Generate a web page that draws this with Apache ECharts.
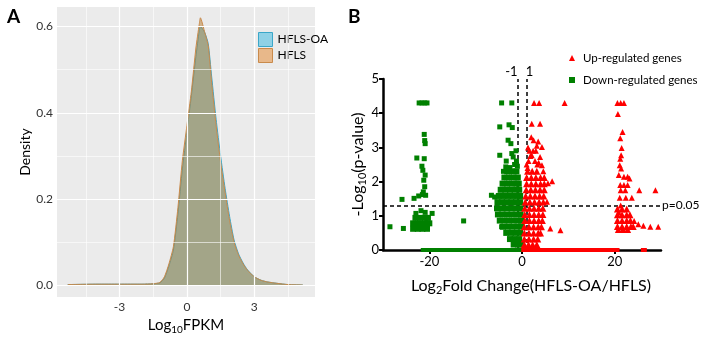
<!DOCTYPE html>
<html><head><meta charset="utf-8">
<script src="https://cdn.jsdelivr.net/npm/echarts@6/dist/echarts.min.js"></script>
<style>html,body{margin:0;padding:0;background:#fff}#c{width:703px;height:340px}</style>
</head><body><div id="c"></div>
<script>
// ---- Panel A: density of log10 FPKM ----
const densX   = [-5.3,-4,-3,-2,-1.5,-1.2,-1.0,-0.8,-0.6,-0.4,-0.2,0,0.2,0.4,0.55,0.6,0.8,0.95,1.1,1.3,1.5,1.7,1.9,2.1,2.3,2.5,2.7,3.0,3.3,3.6,4.0,4.5,5.16];
const hflsY   = [0.002,0.003,0.003,0.003,0.004,0.007,0.02,0.05,0.09,0.18,0.29,0.37,0.45,0.55,0.605,0.62,0.585,0.555,0.47,0.37,0.285,0.215,0.15,0.10,0.07,0.05,0.035,0.02,0.012,0.008,0.005,0.002,0.001];
const hflsOaY = [0.002,0.003,0.003,0.003,0.004,0.006,0.017,0.045,0.082,0.165,0.27,0.355,0.44,0.53,0.59,0.60,0.585,0.56,0.485,0.385,0.30,0.225,0.16,0.105,0.073,0.052,0.036,0.02,0.012,0.008,0.005,0.002,0.001];
const aXTicks = [-3,0,3];
const aXMinor = [-4.5,-1.5,1.5,4.5];
const aYTicks = [0,0.2,0.4,0.6];
const aYMinor = [0.1,0.3,0.5];

// ---- Panel B: volcano plot ([log2FC, -log10 p]) ----
const downScatter = [
 [-22.2,4.3],[-21.6,4.3],[-21.0,4.3],[-20.5,4.3],
 [-21.1,3.38],[-20.9,3.11],[-21.0,3.2],[-22.7,2.69],[-21.1,2.67],[-21.6,2.45],[-21.4,2.33],[-20.9,2.19],
 [-21.2,2.04],[-21.0,1.85],[-21.3,1.70],[-22.3,1.58],[-23.3,1.51],[-20.8,1.60],[-21.5,1.62],[-25.9,1.48],
 [-22.9,1.07],[-20.9,1.1],[-19.4,1.07],[-21.8,1.15],
 [-28.5,0.68],[-25.6,0.63],[-12.6,0.85],
 [-4.4,4.3],[-2.2,4.3],[-4.8,3.6],[-2.8,3.66],[-2.1,3.58],[-3.0,3.21],[-2.4,3.11],[-4.8,2.77],[-2.2,2.82],
 [-1.9,2.72],[-3.5,2.43],[-2.6,2.41],[-1.6,2.5],[-1.2,2.6],[-6.6,1.6],[-5.9,1.55],[-4.4,0.68],
 [-1.0,2.45],[-1.3,2.9],[-3.4,2.6],[-4.0,2.3]
];
const downCore = [
 [-23.5,0.62],[-22.5,0.62],[-21.5,0.62],[-20.5,0.62],
 [-23.5,0.78],[-22.5,0.78],[-21.5,0.78],[-20.5,0.78],[-20.0,0.78],
 [-23.0,0.94],[-22.0,0.94],[-21.0,0.94],[-20.3,0.94],
 [-3.2,2.3],[-2.2,2.3],[-1.2,2.3],
 [-3.8,2.12],[-2.8,2.12],[-1.8,2.12],[-0.9,2.12],
 [-4.2,1.94],[-3.2,1.94],[-2.2,1.94],[-1.2,1.94],[-0.7,1.94],
 [-4.6,1.76],[-3.6,1.76],[-2.6,1.76],[-1.6,1.76],[-0.6,1.76],
 [-5.0,1.58],[-4.0,1.58],[-3.0,1.58],[-2.0,1.58],[-1.0,1.58],[-0.4,1.58],
 [-5.3,1.40],[-4.3,1.40],[-3.3,1.40],[-2.3,1.40],[-1.3,1.40],[-0.4,1.40],
 [-5.4,1.22],[-4.4,1.22],[-3.4,1.22],[-2.4,1.22],[-1.4,1.22],[-0.4,1.22],
 [-5.2,1.04],[-4.2,1.04],[-3.2,1.04],[-2.2,1.04],[-1.2,1.04],[-0.3,1.04],
 [-4.8,0.86],[-3.8,0.86],[-2.8,0.86],[-1.8,0.86],[-0.8,0.86],[-0.2,0.86],
 [-4.1,0.68],[-3.1,0.68],[-2.1,0.68],[-1.1,0.68],[-0.2,0.68],
 [-3.4,0.50],[-2.4,0.50],[-1.4,0.50],[-0.4,0.50],
 [-2.6,0.32],[-1.6,0.32],[-0.6,0.32],
 [-1.8,0.16],[-0.9,0.16],[-0.2,0.16]
];
const downBase = [
 [-21.2,0],[-20.4,0],[-19.6,0],[-18.8,0],[-18,0],[-17.2,0],[-16.4,0],[-15.6,0],[-14.8,0],[-14,0],
 [-13.2,0],[-12.4,0],[-11.6,0],[-10.8,0],[-10,0],[-9.2,0],[-8.4,0],[-7.6,0],[-6.8,0],[-6,0],
 [-5.2,0],[-4.4,0],[-3.6,0],[-2.8,0],[-2,0],[-1.2,0],[-0.5,0]
];
const upScatter = [
 [2.6,4.3],[3.7,4.3],[9.2,4.3],[2.1,3.69],[3.9,3.69],[2.5,3.21],[3.5,3.17],[4.3,3.01],[3.2,3.05],
 [2.1,2.77],[3.9,2.72],[4.3,2.48],[6.5,2.01],[5.6,1.95],[5.4,1.41],[6.1,0.63],[8.3,0.58],
 [1.6,2.9],[1.4,2.6],[2.8,2.6],[3.3,2.5],[1.2,2.4],
 [1.0,2.5],[1.8,2.75],[2.4,2.9],[3.6,2.55],[4.6,2.3],[1.3,3.0],[2.0,3.3],[3.0,2.9],
 [20.6,4.3],[21.3,4.3],[22.0,4.3],[20.7,3.98],[21.7,3.45],[21.2,3.27],[21.5,2.98],[21.4,2.77],
 [21.2,2.67],[21.1,2.48],[21.4,2.38],[20.9,2.19],[22.0,2.14],[22.8,2.14],[23.2,2.09],
 [21.2,1.9],[22.0,1.9],[22.8,1.9],[25.3,1.75],[28.8,1.75],[21.3,1.75],[22.3,1.75],
 [21.1,1.53],[22.4,1.53],[23.7,1.53],[21.3,1.3],[20.9,1.1],
 [24.2,0.85],[25.1,0.75],[26.2,0.71],[27.7,0.68],[29.4,0.68]
];
const upCore = [
 [1.2,2.3],[2.2,2.3],[3.2,2.3],
 [1.0,2.12],[2.0,2.12],[3.0,2.12],[4.0,2.12],[4.8,2.12],
 [1.0,1.94],[2.0,1.94],[3.0,1.94],[4.0,1.94],[4.8,1.94],
 [0.9,1.76],[1.9,1.76],[2.9,1.76],[3.9,1.76],[4.8,1.76],
 [0.8,1.58],[1.8,1.58],[2.8,1.58],[3.8,1.58],[4.7,1.58],
 [0.7,1.40],[1.7,1.40],[2.7,1.40],[3.7,1.40],[4.6,1.40],
 [0.6,1.22],[1.6,1.22],[2.6,1.22],[3.6,1.22],[4.5,1.22],
 [0.6,1.04],[1.6,1.04],[2.6,1.04],[3.6,1.04],[4.5,1.04],
 [0.6,0.86],[1.6,0.86],[2.6,0.86],[3.6,0.86],[4.4,0.86],
 [0.5,0.68],[1.5,0.68],[2.5,0.68],[3.5,0.68],[4.2,0.68],
 [0.5,0.50],[1.5,0.50],[2.5,0.50],[3.5,0.50],[4.0,0.50],
 [0.5,0.32],[1.5,0.32],[2.5,0.32],[3.4,0.32],
 [0.5,0.16],[1.4,0.16],[2.3,0.16],[3.2,0.16],
 [20.6,1.2],[21.6,1.2],[22.6,1.2],
 [20.6,1.03],[21.6,1.03],[22.6,1.03],[23.3,1.03],
 [20.6,0.86],[21.6,0.86],[22.6,0.86],[23.4,0.86],
 [20.6,0.69],[21.6,0.69],[22.6,0.69],[23.5,0.69],[24.0,0.69],
 [20.8,0.6],[21.8,0.6],[22.8,0.6]
];
const upBase = [
 [0.5,0],[1.2,0],[2,0],[2.8,0],[3.6,0],[4.4,0],[5.2,0],[6,0],[6.8,0],[7.6,0],[8.4,0],[9.2,0],[10,0],
 [10.8,0],[11.6,0],[12.4,0],[13.2,0],[14,0],[14.8,0],[15.6,0],[16.4,0],[17.2,0],[18,0],[18.8,0],
 [19.6,0],[20.4,0],[26.3,0]
];
const bXTicks = [-20,0,20];
const fcCut = [-1,1];
const pCut = 1.3;

const FONT = 'Lato';
const chart = echarts.init(document.getElementById('c'));
const gridLine = (v, w, axis) => ({ [axis]: v, lineStyle: { color: '#ffffff', width: w, type: 'solid' } });

chart.setOption({
  animation: false,
  textStyle: { fontFamily: FONT },
  title: [
    { text: 'A', left: 2, top: 2, textStyle: { fontSize: 19, fontWeight: 'bold', color: '#000', fontFamily: FONT } },
    { text: 'B', left: 343, top: 2, textStyle: { fontSize: 19, fontWeight: 'bold', color: '#000', fontFamily: FONT } }
  ],
  legend: [
    { left: 253, top: 27, orient: 'vertical', icon: 'rect', itemWidth: 14, itemHeight: 14, itemGap: 1,
      textStyle: { fontSize: 12, color: '#000', fontFamily: FONT },
      data: [
        { name: 'HFLS-OA', itemStyle: { color: '#8fd1e6', borderColor: '#3aa7c9', borderWidth: 1 } },
        { name: 'HFLS', itemStyle: { color: '#e8b88a', borderColor: '#c98a4b', borderWidth: 1 } }
      ] },
    { left: 564, top: 47, orient: 'vertical', itemWidth: 6, itemHeight: 6, itemGap: 10,
      textStyle: { fontSize: 11.5, color: '#000', fontFamily: FONT, padding: [0, 0, 0, 3] },
      data: [
        { name: 'Up-regulated genes', icon: 'triangle', itemStyle: { color: '#ff0000' } },
        { name: 'Down-regulated genes', icon: 'rect', itemStyle: { color: '#008000' } }
      ] }
  ],
  grid: [
    { left: 57, top: 7, width: 258, height: 296, show: true, backgroundColor: '#ebebeb', borderWidth: 0 },
    { left: 383, top: 79, width: 278, height: 171 }
  ],
  xAxis: [
    { gridIndex: 0, type: 'value', min: -5.78, max: 5.7,
      name: 'Log{sub|10}FPKM', nameLocation: 'middle', nameGap: 15,
      nameTextStyle: { fontSize: 15, color: '#000', fontFamily: FONT,
        rich: { sub: { fontSize: 10, padding: [9, 0, 0, 0], fontFamily: FONT, color: '#000' } } },
      axisLine: { show: false },
      axisTick: { show: true, length: 3, customValues: aXTicks, lineStyle: { color: '#333' } },
      axisLabel: { customValues: aXTicks, fontSize: 12, color: '#333', margin: 4, fontFamily: FONT },
      splitLine: { show: false } },
    { gridIndex: 1, type: 'value', min: -30, max: 30,
      name: 'Log{sub|2}Fold Change(HFLS-OA/HFLS)', nameLocation: 'middle', nameGap: 26,
      nameTextStyle: { fontSize: 16, color: '#000', fontFamily: FONT, padding: [0, 0, 0, 18],
        rich: { sub: { fontSize: 11, padding: [9, 0, 0, 0], fontFamily: FONT, color: '#000' } } },
      axisLine: { show: true, onZero: false, lineStyle: { color: '#000', width: 2.5 } },
      axisTick: { show: true, length: 4, customValues: bXTicks, lineStyle: { color: '#000', width: 2 } },
      axisLabel: { customValues: bXTicks, fontSize: 13, color: '#000', margin: 5, fontFamily: FONT },
      splitLine: { show: false } }
  ],
  yAxis: [
    { gridIndex: 0, type: 'value', min: -0.027, max: 0.645,
      name: 'Density', nameLocation: 'middle', nameGap: 20,
      nameTextStyle: { fontSize: 14, color: '#000', fontFamily: FONT },
      axisLine: { show: false },
      axisTick: { show: true, length: 3, customValues: aYTicks, lineStyle: { color: '#333' } },
      axisLabel: { customValues: aYTicks, fontSize: 12, color: '#333', margin: 4, fontFamily: FONT,
        formatter: v => v.toFixed(1) },
      splitLine: { show: false } },
    { gridIndex: 1, type: 'value', min: 0, max: 5, interval: 1,
      name: '-Log{sub|10}(p-value)', nameLocation: 'middle', nameGap: 15,
      nameTextStyle: { fontSize: 16, color: '#000', fontFamily: FONT,
        rich: { sub: { fontSize: 11, padding: [9, 0, 0, 0], fontFamily: FONT, color: '#000' } } },
      axisLine: { show: true, onZero: false, lineStyle: { color: '#000', width: 2.5 } },
      axisTick: { show: true, length: 4, lineStyle: { color: '#000', width: 2 } },
      axisLabel: { fontSize: 13, color: '#000', margin: 4, fontFamily: FONT },
      splitLine: { show: false } }
  ],
  series: [
    { type: 'line', xAxisIndex: 0, yAxisIndex: 0, data: [], z: 1, silent: true,
      markLine: { silent: true, symbol: 'none', label: { show: false }, animation: false,
        data: [
          ...aXMinor.map(v => gridLine(v, 0.6, 'xAxis')),
          ...aXTicks.map(v => gridLine(v, 1.2, 'xAxis')),
          ...aYMinor.map(v => gridLine(v, 0.6, 'yAxis')),
          ...aYTicks.map(v => gridLine(v, 1.2, 'yAxis'))
        ] } },
    { name: 'HFLS-OA', type: 'line', xAxisIndex: 0, yAxisIndex: 0, z: 3, smooth: 0.2, showSymbol: false,
      data: densX.map((x, i) => [x, hflsOaY[i]]),
      lineStyle: { color: '#3aa7c9', width: 1 }, itemStyle: { color: '#3aa7c9' },
      areaStyle: { color: '#33b7e1', opacity: 0.5 } },
    { name: 'HFLS', type: 'line', xAxisIndex: 0, yAxisIndex: 0, z: 4, smooth: 0.2, showSymbol: false,
      data: densX.map((x, i) => [x, hflsY[i]]),
      lineStyle: { color: '#c98a4b', width: 1 }, itemStyle: { color: '#c98a4b' },
      areaStyle: { color: '#b77a2a', opacity: 0.5 } },

    { name: 'Down-regulated genes', type: 'scatter', xAxisIndex: 1, yAxisIndex: 1, clip: false, z: 5,
      symbol: 'rect', symbolSize: 6, itemStyle: { color: '#008000', opacity: 1 }, data: downCore },
    { name: 'Down-regulated genes', type: 'scatter', xAxisIndex: 1, yAxisIndex: 1, clip: false, z: 5,
      symbol: 'rect', symbolSize: 5, itemStyle: { color: '#008000', opacity: 1 }, data: downScatter },
    { name: 'Down-regulated genes', type: 'scatter', xAxisIndex: 1, yAxisIndex: 1, clip: false, z: 5,
      symbol: 'rect', symbolSize: [6, 4], itemStyle: { color: '#008000', opacity: 1 }, data: downBase },
    { name: 'Up-regulated genes', type: 'scatter', xAxisIndex: 1, yAxisIndex: 1, clip: false, z: 5,
      symbol: 'triangle', symbolSize: 7, itemStyle: { color: '#ff0000', opacity: 1 }, data: upCore },
    { name: 'Up-regulated genes', type: 'scatter', xAxisIndex: 1, yAxisIndex: 1, clip: false, z: 5,
      symbol: 'triangle', symbolSize: 6, itemStyle: { color: '#ff0000', opacity: 1 }, data: upScatter },
    { name: 'Up-regulated genes', type: 'scatter', xAxisIndex: 1, yAxisIndex: 1, clip: false, z: 5,
      symbol: 'rect', symbolSize: [6, 4], itemStyle: { color: '#ff0000', opacity: 1 }, data: upBase,
      markLine: { silent: true, symbol: 'none', animation: false,
        lineStyle: { color: '#000', width: 1.5, type: [4, 3] },
        data: [
          { xAxis: fcCut[0], label: { show: true, position: 'end', formatter: String(fcCut[0]), fontSize: 13, color: '#000', offset: [-6, 4], fontFamily: FONT } },
          { xAxis: fcCut[1], label: { show: true, position: 'end', formatter: String(fcCut[1]), fontSize: 13, color: '#000', offset: [3, 4], fontFamily: FONT } },
          { yAxis: pCut, label: { show: true, position: 'end', formatter: 'p=0.05', fontSize: 12, color: '#000', fontFamily: FONT, distance: 1 } }
        ] } }
  ]
});
</script></body></html>
